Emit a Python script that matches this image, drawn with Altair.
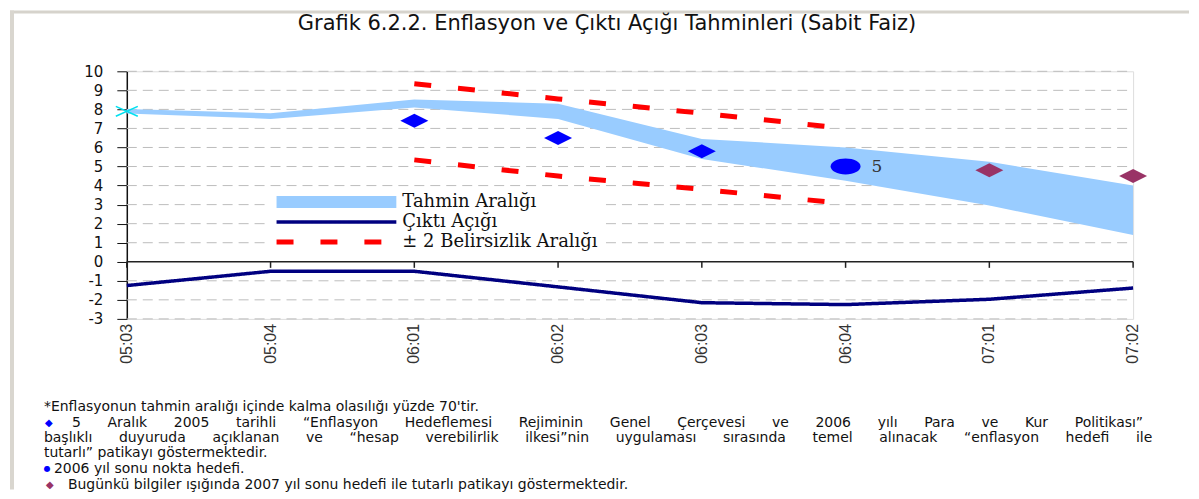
import altair as alt
import pandas as pd

# ---------------- data ----------------
quarters = ["05:03", "05:04", "06:01", "06:02", "06:03", "06:04", "07:01", "07:02"]
band_low = [7.78, 7.50, 8.10, 7.50, 5.40, 4.25, 2.95, 1.40]
band_high = [8.02, 7.80, 8.52, 8.30, 6.45, 6.00, 5.25, 4.00]
output_gap = [-1.25, -0.50, -0.50, -1.32, -2.15, -2.25, -1.97, -1.38]

unc_quarters = ["06:01", "06:02", "06:03", "06:04"]
unc_upper = [9.35, 8.55, 7.80, 7.00]
unc_lower = [5.35, 4.50, 3.80, 3.05]

path_quarters = ["06:01", "06:02", "06:03"]
path_values = [7.4, 6.5, 5.8]
target_quarters = ["06:04"]
target_values = [5.0]
target_labels = ["5"]
new_path_quarters = ["07:01", "07:02"]
new_path_values = [4.8, 4.5]
start_quarters = ["05:03"]
start_values = [7.9]

y_ticks = list(range(-3, 11))
grid_values = [v for v in y_ticks if v != 0]

series_names = ["Tahmin Aralığı", "Çıktı Açığı", "± 2 Belirsizlik Aralığı"]
series_colors = ["#99ccff", "#000080", "#ff0000"]

title_text = "Grafik 6.2.2. Enflasyon ve Çıktı Açığı Tahminleri (Sabit Faiz)"
notes = [
    "*Enflasyonun tahmin aralığı içinde kalma olasılığı yüzde 70'tir.",
    "5 Aralık 2005 tarihli “Enflasyon Hedeflemesi Rejiminin Genel Çerçevesi ve 2006 yılı Para ve Kur Politikası”",
    "başlıklı duyuruda açıklanan ve “hesap verebilirlik ilkesi”nin uygulaması sırasında temel alınacak “enflasyon hedefi ile",
    "tutarlı” patikayı göstermektedir.",
    "2006 yıl sonu nokta hedefi.",
    "Bugünkü bilgiler ışığında 2007 yıl sonu hedefi ile tutarlı patikayı göstermektedir.",
]


def justify(s, n):
    # widen the word gaps (non-breaking spaces) like the justified source text
    return (" " + "\u00a0" * n).join(s.split(" "))


# ---------------- layout ----------------
W, H = 1008, 248
Y_MIN, Y_MAX = -3, 10

xscale = alt.Scale(type="point", domain=quarters, padding=0)
yscale = alt.Scale(domain=[Y_MIN, Y_MAX], nice=False, zero=False)

yaxis = alt.Axis(
    title=None, values=y_ticks,
    labelExpr="'' + datum.value",
    domainColor="#111111", domainWidth=1.5, tickColor="#111111", tickSize=10,
    tickWidth=1, labelFont="DejaVu Sans", labelFontSize=15, labelColor="#111111",
    labelPadding=14, grid=False,
)

X = alt.X("q:N", scale=xscale, axis=None, sort=quarters)


def Y(field):
    return alt.Y(field, scale=yscale, axis=yaxis)


legend = alt.Legend(
    title=None, orient="none", legendX=140, legendY=117,
    symbolType="stroke", symbolSize=14400, clipHeight=20, rowPadding=0,
    labelFont="DejaVu Serif", labelFontSize=18, labelColor="#111111",
    labelOffset=0, labelLimit=500, fillColor="white", padding=4,
)

# ---------------- layers ----------------
grid = alt.Chart(pd.DataFrame({"g": grid_values})).mark_rule(
    color="#bdbdbd", strokeDash=[10, 6], strokeWidth=1
).encode(y=Y("g:Q"), x=alt.value(0), x2=alt.value(W))

# category axis drawn on the zero line (line + downward ticks) and labels below the plot
zero_line = alt.Chart(pd.DataFrame({"z": [0]})).mark_rule(
    color="#222222", strokeWidth=1.5
).encode(y=Y("z:Q"), x=alt.value(0), x2=alt.value(W))
zero_ticks = alt.Chart(pd.DataFrame({"q": quarters, "z": [0] * len(quarters), "z2": [-0.32] * len(quarters)})).mark_rule(
    color="#222222", strokeWidth=1.5
).encode(x=X, y=Y("z:Q"), y2="z2:Q")
x_labels = alt.Chart(pd.DataFrame({"q": quarters})).mark_text(
    angle=270, align="right", baseline="middle", font="Liberation Sans",
    fontSize=16, color="#333333"
).encode(x=X, y=alt.value(H + 5), text="q:N")

band_df = pd.DataFrame({"q": quarters, "lo": band_low, "hi": band_high})
area = alt.Chart(band_df).mark_area(color="#99ccff", opacity=1).encode(
    x=X, y=Y("lo:Q"), y2="hi:Q"
)

rows = []
for q, v in zip(quarters, output_gap):
    rows.append({"series": "Çıktı Açığı", "lid": "gap", "q": q, "v": v})
for q, v in zip(unc_quarters, unc_upper):
    rows.append({"series": "± 2 Belirsizlik Aralığı", "lid": "up", "q": q, "v": v})
for q, v in zip(unc_quarters, unc_lower):
    rows.append({"series": "± 2 Belirsizlik Aralığı", "lid": "low", "q": q, "v": v})
line_df = pd.DataFrame(rows)

lines = alt.Chart(line_df).mark_line(strokeCap="butt").encode(
    x=X,
    y=Y("v:Q"),
    color=alt.Color("series:N", scale=alt.Scale(domain=series_names, range=series_colors), legend=legend),
    strokeDash=alt.StrokeDash(
        "series:N",
        scale=alt.Scale(domain=series_names, range=[[1, 0], [1, 0], [17, 27]]),
        legend=legend,
    ),
    strokeWidth=alt.StrokeWidth(
        "series:N",
        scale=alt.Scale(type="ordinal", domain=series_names, range=[12, 3.5, 5]),
        legend=legend,
    ),
    detail="lid:N",
)

diamond = "M-1,0L0,-0.5L1,0L0,0.5Z"
ellipse = "M-1,0A1,0.53,0,1,0,1,0A1,0.53,0,1,0,-1,0Z"
xmark = "M-1,-0.45L1,0.45M-1,0.45L1,-0.45"

blue_d = alt.Chart(pd.DataFrame({"q": path_quarters, "v": path_values})).mark_point(
    shape=diamond, filled=True, size=784, color="#0000ff", opacity=1, strokeWidth=0
).encode(x=X, y=Y("v:Q"))

circle_df = pd.DataFrame({"q": target_quarters, "v": target_values, "t": target_labels})
circle = alt.Chart(circle_df).mark_point(
    shape=ellipse, filled=True, size=900, color="#0000ff", opacity=1, strokeWidth=0
).encode(x=X, y=Y("v:Q"))
circle_lbl = alt.Chart(circle_df).mark_text(
    align="left", baseline="middle", dx=26, font="DejaVu Serif", fontSize=17, color="#333333"
).encode(x=X, y=Y("v:Q"), text="t:N")

purple_d = alt.Chart(pd.DataFrame({"q": new_path_quarters, "v": new_path_values})).mark_point(
    shape=diamond, filled=True, size=784, color="#993366", opacity=1, strokeWidth=0
).encode(x=X, y=Y("v:Q"))

start_x = alt.Chart(pd.DataFrame({"q": start_quarters, "v": start_values})).mark_point(
    shape=xmark, filled=False, size=484, color="#00e0f0", opacity=1, strokeWidth=1.6
).encode(x=X, y=Y("v:Q"))

# ---------------- frame + text ----------------
dummy = pd.DataFrame({"a": [0]})
border_top = alt.Chart(dummy).mark_rule(color="#d6d3cc", strokeWidth=3).encode(
    x=alt.value(-117), x2=alt.value(1064), y=alt.value(-59.5)
)
border_left = alt.Chart(dummy).mark_rule(color="#d9d6cf", strokeWidth=4).encode(
    x=alt.value(-115), y=alt.value(-61), y2=alt.value(419)
)


def txt(text, x, y, size, color="#111111", font="DejaVu Sans", align="left"):
    return alt.Chart(pd.DataFrame({"t": [text]})).mark_text(
        align=align, baseline="middle", font=font, fontSize=size, color=color
    ).encode(x=alt.value(x), y=alt.value(y), text="t:N")


title = txt(title_text, 481, -47, 21, "#111111", align="center")
fn_size = 14
foot = [
    txt(notes[0], -83, 336, fn_size),
    txt("◆", -78, 352, 10, "#0000ff", align="center"),
    txt(justify(notes[1], 5), -55, 352, fn_size),
    txt(justify(notes[2], 5), -83, 367, fn_size),
    txt(notes[3], -83, 382, fn_size),
    txt("●", -80, 398, 8, "#0000ff", align="center"),
    txt(notes[4], -73, 398, fn_size),
    txt("◆", -77, 414, 10, "#993366", align="center"),
    txt(notes[5], -59, 414, fn_size),
]

chart = alt.layer(
    grid, zero_line, zero_ticks, x_labels, border_top, border_left, area, lines,
    blue_d, circle, circle_lbl, purple_d, start_x, title, *foot,
).properties(
    width=W, height=H, padding=0
).configure_view(stroke=None).configure_axis(grid=False).configure(background="white")

chart.save("out.html", embed_options={"renderer": "svg", "actions": False})
